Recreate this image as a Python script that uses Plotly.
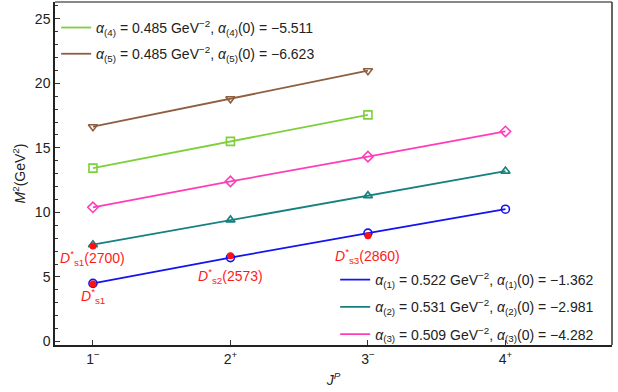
import plotly.graph_objects as go

J = [1, 2, 3, 4]
J3 = [1, 2, 3]
tick_text = ["1<sup>−</sup>", "2<sup>+</sup>", "3<sup>−</sup>", "4<sup>+</sup>"]

m2_1 = [4.50, 6.50, 8.40, 10.25]
m2_2 = [7.50, 9.42, 11.30, 13.20]
m2_3 = [10.40, 12.40, 14.32, 16.27]
m2_4 = [13.43, 15.50, 17.56]
m2_5 = [16.64, 18.80, 20.98]

names = [
    "<i>α</i><sub>(1)</sub> = 0.522 GeV<sup>−2</sup>, <i>α</i><sub>(1)</sub>(0) = −1.362",
    "<i>α</i><sub>(2)</sub> = 0.531 GeV<sup>−2</sup>, <i>α</i><sub>(2)</sub>(0) = −2.981",
    "<i>α</i><sub>(3)</sub> = 0.509 GeV<sup>−2</sup>, <i>α</i><sub>(3)</sub>(0) = −4.282",
    "<i>α</i><sub>(4)</sub> = 0.485 GeV<sup>−2</sup>, <i>α</i><sub>(4)</sub>(0) = −5.511",
    "<i>α</i><sub>(5)</sub> = 0.485 GeV<sup>−2</sup>, <i>α</i><sub>(5)</sub>(0) = −6.623",
]

exp_J = [1, 1, 2, 3]
exp_m2 = [4.45, 7.40, 6.65, 8.20]
exp_labels = [
    "<i>D</i><sup>*</sup><sub>s1</sub>",
    "<i>D</i><sup>*</sup><sub>s1</sub>(2700)",
    "<i>D</i><sup>*</sup><sub>s2</sub>(2573)",
    "<i>D</i><sup>*</sup><sub>s3</sub>(2860)",
]
label_x = [1, 1, 2, 3]
label_y = [3.5, 6.45, 5.05, 6.6]

colors = ["#1414F0", "#168080", "#FF3DB8", "#7ED03A", "#8E5E40"]
symbols = ["circle-open", "triangle-up-open", "diamond-open", "square-open", "triangle-down-open"]
series = [(J, m2_1), (J, m2_2), (J, m2_3), (J3, m2_4), (J3, m2_5)]

fig = go.Figure()
for i, (xs, ys) in enumerate(series):
    fig.add_trace(go.Scatter(
        x=xs, y=ys, mode="lines", line=dict(color=colors[i], width=1.8),
        name=names[i], legend="legend" if i < 3 else "legend2", showlegend=True,
        legendgroup="g%d" % i,
    ))
for i, (xs, ys) in enumerate(series):
    fig.add_trace(go.Scatter(
        x=xs, y=ys, mode="markers",
        marker=dict(symbol=symbols[i], size=8, color=colors[i], line=dict(width=1.6, color=colors[i])),
        showlegend=False,
    ))
fig.add_trace(go.Scatter(
    x=exp_J, y=exp_m2, mode="markers",
    marker=dict(symbol="circle", size=7, color="#FF1010"), showlegend=False,
))

for tx, ty, t in zip(label_x, label_y, exp_labels):
    fig.add_annotation(x=tx, y=ty, text=t, showarrow=False,
                       font=dict(color="#FF1A1A", size=14, family="Liberation Sans, Arial"))

# frame top and right
fig.add_shape(type="line", xref="paper", yref="paper", x0=0, x1=1, y0=1, y1=1,
              line=dict(color="#888888", width=2))
fig.add_shape(type="line", xref="paper", yref="paper", x0=1, x1=1, y0=0, y1=1,
              line=dict(color="#333333", width=1.5))

fig.update_layout(
    width=618, height=392,
    margin=dict(l=55, r=6, t=2, b=47),
    plot_bgcolor="white", paper_bgcolor="white",
    font=dict(family="Liberation Sans, Arial", size=13, color="#222222"),
    xaxis=dict(range=[0.724, 4.775], tickvals=J, ticktext=tick_text, automargin=False,
               ticks="inside", ticklen=5, tickcolor="#333", showgrid=False, zeroline=False,
               showline=True, linecolor="#222", linewidth=1.5,
               title=dict(text="<i>J</i><sup><i>P</i></sup>", standoff=10, font=dict(size=14)),
               tickfont=dict(size=14)),
    yaxis=dict(range=[-0.27, 26.3], tickvals=[0, 5, 10, 15, 20, 25], automargin=False,
               ticks="inside", ticklen=5, tickcolor="#333", showgrid=False, zeroline=False,
               showline=True, linecolor="#222", linewidth=1.5,
               minor=dict(ticks="inside", ticklen=3, dtick=1, tickcolor="#333"),
               title=dict(text="<i>M</i><sup>2</sup>(GeV<sup>2</sup>)", standoff=6, font=dict(size=14)),
               tickfont=dict(size=14)),
    legend=dict(x=0.503, y=0.236, xanchor="left", yanchor="top", bgcolor="rgba(0,0,0,0)",
                font=dict(size=14), tracegroupgap=6, itemwidth=30),
    legend2=dict(x=0.002, y=0.971, xanchor="left", yanchor="top", bgcolor="rgba(0,0,0,0)",
                 font=dict(size=14), tracegroupgap=5, itemwidth=30),
)

fig.write_html("out.html", config={"displayModeBar": False},
               post_script="document.body.style.margin='0';document.body.style.overflow='hidden';")
